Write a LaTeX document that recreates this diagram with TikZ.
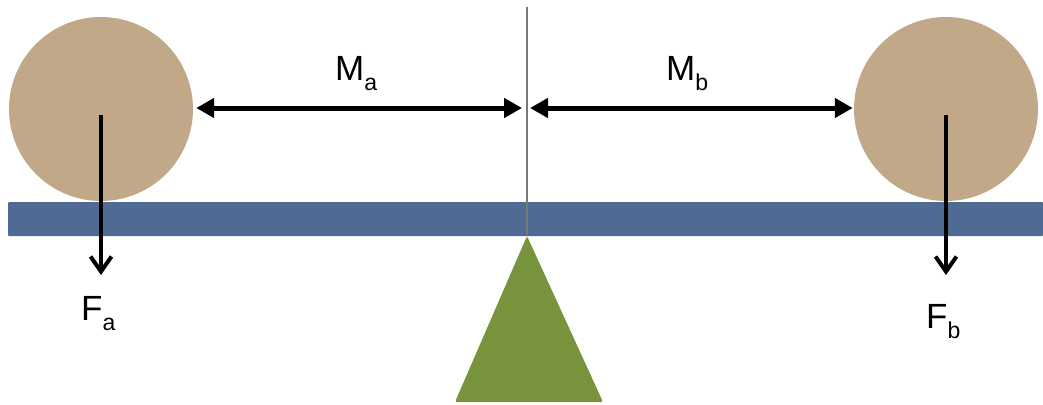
\documentclass[tikz,border=0pt]{standalone}
\usepackage{fontspec}
\setmainfont{Liberation Sans}
\usetikzlibrary{arrows.meta}
\definecolor{ballc}{RGB}{192,168,136}
\definecolor{beamc}{RGB}{79,107,148}
\definecolor{fulcc}{RGB}{119,147,60}
\definecolor{axisc}{RGB}{120,120,120}
\newcommand{\lab}[2]{#1\raisebox{-10pt}{\fontsize{23}{23}\selectfont #2}}
\begin{document}
\begin{tikzpicture}[x=1pt,y=-1pt,
  ball/.style={circle,fill=ballc,minimum size=184pt,inner sep=0pt},
  lbl/.style={font=\fontsize{35}{40}\selectfont,inner sep=0pt,anchor=base west},
  dimarrow/.style={line width=5pt,{Triangle[length=18pt,width=19pt]}-{Triangle[length=18pt,width=19pt]}},
  forcearrow/.style={line width=4pt,-{Straight Barb[length=15pt,width=21pt]}}]
\useasboundingbox (0,0) rectangle (1043,404);
% beam
\fill[beamc,rounded corners=1pt] (8,202) rectangle (1043,236);
% fulcrum
\coordinate (piv) at (527,236);
\coordinate (bl) at (455,402);
\coordinate (br) at (603,402);
\fill[fulcc,rounded corners=2pt] (piv) -- (br) -- (bl) -- cycle;
% axis line
\coordinate (top) at (527,7);
\draw[axisc,line width=1.2pt] (top) -- (527,235);
% balls
\node[ball] (ca) at (101,109) {};
\node[ball] (cb) at (946,109) {};
% dimension arrows
\coordinate (pl) at (522,108);
\coordinate (pr) at (530,108);
\draw[dimarrow] (ca.east |- pl) ++(3,0) -- (pl);
\draw[dimarrow] (pr) -- ([xshift=-1pt]cb.west |- pr);
% forces
\coordinate (fa) at (101,275);
\coordinate (fb) at (946,275);
\draw[forcearrow] ([yshift=-6pt]ca.center) -- (fa);
\draw[forcearrow] ([yshift=-6pt]cb.center) -- (fb);
% labels
\node[lbl] (ma) at (335,80) {\lab{M}{a}};
\node[lbl] (mb) at (666,80) {\lab{M}{b}};
\node[lbl] (la) at (81,320) {\lab{F}{a}};
\node[lbl] (lb) at (926,328) {\lab{F}{b}};
\end{tikzpicture}
\end{document}
